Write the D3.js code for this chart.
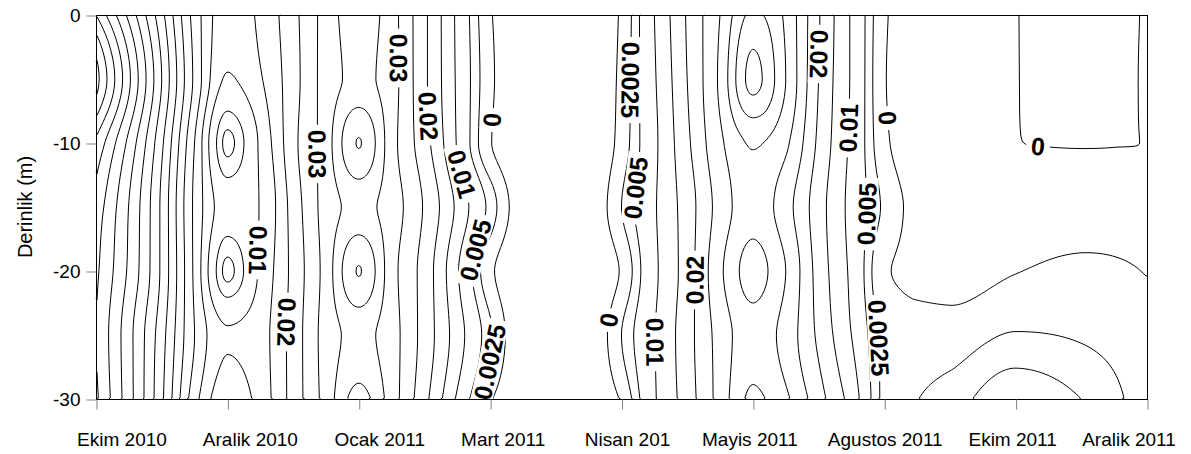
<!DOCTYPE html>
<html>
<head>
<meta charset="utf-8">
<script src="https://cdn.jsdelivr.net/npm/d3@7"></script>
<style>
body{margin:0;background:#fff}
svg{display:block}
text{font-family:"Liberation Sans",Arial,sans-serif}
</style>
</head>
<body>
<svg id="chart" width="1191" height="454"></svg>
<script>
var months=["Ekim 2010","Aralik 2010","Ocak 2011","Mart 2011","Nisan 201","Mayis 2011","Agustos 2011","Ekim 2011","Aralik 2011"];
var depthTicks=[0,-10,-20,-30];
var depths=[0,-5,-10,-15,-20,-25,-30];
//where each profile was read, in month-index units (0 = Ekim 2010 ... 8 = Aralik 2011)
var profileAt=[0,0.5,0.75,1,1.25,1.5,1.75,2,2.25,2.5,3,3.5,4,4.25,4.5,4.75,5,5.25,5.5,5.75,6,6.5,7,7.5,8];
//one profile per position, values at the depths above
var profiles=[
	[0.075,0.087,0.074,0.068,0.066,0.065,0.066],
	[0.0415,0.045,0.041,0.039,0.039,0.037,0.036],
	[0.023,0.024,0.020,0.019,0.019,0.020,0.017],
	[0.012,0.0095,0.0018,0.0075,0.0018,0.0105,0.0065],
	[0.016,0.0145,0.0108,0.0102,0.0108,0.013,0.012],
	[0.0235,0.023,0.0235,0.022,0.0215,0.022,0.022],
	[0.032,0.032,0.0325,0.032,0.032,0.032,0.032],
	[0.038,0.0363,0.0452,0.0365,0.0452,0.0365,0.042],
	[0.032,0.032,0.032,0.0325,0.032,0.032,0.0325],
	[0.021,0.021,0.022,0.0245,0.023,0.023,0.0215],
	[0.0003,0.0006,0.0002,0.004,0.0006,0.003,0.0003],
	[-0.004,-0.004,-0.004,-0.005,-0.004,-0.005,-0.004],
	[0.0004,0.0007,0.001,0.0025,0.0003,0.0025,0.0003],
	[0.010,0.0095,0.009,0.0095,0.009,0.0098,0.0095],
	[0.0205,0.020,0.019,0.0175,0.0175,0.018,0.0175],
	[0.030,0.031,0.029,0.027,0.029,0.027,0.027],
	[0.041,0.0465,0.0355,0.033,0.037,0.033,0.036],
	[0.034,0.035,0.031,0.027,0.030,0.028,0.031],
	[0.0205,0.020,0.019,0.0172,0.018,0.019,0.022],
	[0.0095,0.0095,0.009,0.0085,0.009,0.010,0.013],
	[0.0004,0.0002,0.0006,0.002,0.0003,0.002,0.0021],
	[-0.003,-0.003,-0.003,-0.002,-0.0012,0.0012,0.0035],
	[-0.0001,-0.0001,-0.00003,-0.0015,-0.0001,0.0027,0.0075],
	[0.001,0.0008,0.0001,-0.0012,0.0006,0.0022,0.005],
	[-0.0002,-0.0002,-0.00002,-0.001,-0.0001,0.001,0.001]
];
var levels=[0,0.0025,0.005,0.01,0.015,0.02,0.025,0.03,0.035,0.04,0.045,0.05,0.055,0.06,0.065,0.07,0.075,0.08,0.085,0.09];
//contour labels: level, month index, depth, reading direction (1 down, -1 up, 0 across)
var labelSpots=[
	[0.03,1.68,-10.9,1],
	[0.01,1.2,-18.3,1],
	[0.02,1.45,-24.0,1],
	[0.03,2.31,-3.4,1],
	[0.02,2.56,-7.8,1],
	[0.01,2.81,-12.3,1],
	[0,3.02,-8.2,1],
	[0.005,2.93,-18.5,-1],
	[0.0025,3.0,-27.1,-1],
	[0.0025,4.06,-5.1,1],
	[0.005,4.09,-13.5,-1],
	[0,3.9,-23.8,-1],
	[0.01,4.25,-25.5,1],
	[0.02,4.56,-20.7,-1],
	[0.02,5.53,-3.1,1],
	[0.01,5.7,-8.8,-1],
	[0,6.01,-8.0,1],
	[0.005,5.85,-15.6,-1],
	[0.0025,5.97,-25.2,1],
	[0,7.18,-10.0,0]
];
//month names sit a little off their ticks in the original (pixels)
var monthLabelShift=[25,22,20,12,5,-4,0,-4,-19];

var W=1191,H=454;
var svg=d3.select("#chart");
var x=d3.scaleLinear().domain([0,months.length-1]).range([96,1147]);
var y=d3.scaleLinear().domain([0,-30]).range([15,399]);

//monotone cubic (same slopes as d3.curveMonotoneX) so the fine grid never overshoots the read values
function monotone(xs,ys){
	var n=xs.length,s=[],m=[];
	for(var i=0;i<n-1;i++) s.push((ys[i+1]-ys[i])/(xs[i+1]-xs[i]));
	for(i=1;i<n-1;i++){
		var h0=xs[i]-xs[i-1],h1=xs[i+1]-xs[i];
		var p=(s[i-1]*h1+s[i]*h0)/(h0+h1);
		m[i]=(Math.sign(s[i-1])+Math.sign(s[i]))*Math.min(Math.abs(s[i-1]),Math.abs(s[i]),0.5*Math.abs(p))||0;
	}
	m[0]=(3*s[0]-m[1])/2;
	m[n-1]=(3*s[n-2]-m[n-2])/2;
	return function(v){
		var k=Math.max(0,Math.min(n-2,d3.bisectRight(xs,v)-1));
		var h=xs[k+1]-xs[k],t=(v-xs[k])/h,t2=t*t,t3=t2*t;
		return (2*t3-3*t2+1)*ys[k]+(t3-2*t2+t)*h*m[k]+(-2*t3+3*t2)*ys[k+1]+(t3-t2)*h*m[k+1];
	};
}

//fine grid for d3.contours, sampled at cell centres
var nx=526,ny=192;
var plotLeft=x.range()[0],plotTop=y.range()[0];
var cw=(x.range()[1]-plotLeft)/nx,ch=(y.range()[1]-plotTop)/ny;
var rowFits=depths.map(function(d,r){
	return monotone(profileAt,profiles.map(function(p){return p[r];}));
});
var depthDown=depths.map(function(d){return -d;});
var values=new Array(nx*ny);
for(var i=0;i<nx;i++){
	var u=x.invert(plotLeft+(i+0.5)*cw);
	var fy=monotone(depthDown,rowFits.map(function(f){return f(u);}));
	for(var j=0;j<ny;j++){
		values[j*nx+i]=fy(-y.invert(plotTop+(j+0.5)*ch));
	}
}
var contours=d3.contours().size([nx,ny]).thresholds(levels)(values);

function onEdge(p){return p[0]<=0||p[0]>=nx||p[1]<=0||p[1]>=ny;}
function toPx(p){return [plotLeft+p[0]*cw,plotTop+p[1]*ch];}

//rings -> open polylines, dropping the pieces that run along the frame
var isolines=contours.map(function(c){
	var lines=[];
	c.coordinates.forEach(function(poly){
		poly.forEach(function(ring){
			var pieces=[],cur=[];
			for(var k=0;k<ring.length-1;k++){
				var a=ring[k],b=ring[k+1];
				if(onEdge(a)&&onEdge(b)){
					if(cur.length>1) pieces.push(cur);
					cur=[];
					continue;
				}
				if(!cur.length) cur.push(toPx(a));
				cur.push(toPx(b));
			}
			if(cur.length>1) pieces.push(cur);
			if(pieces.length>1){
				var first=pieces[0],last=pieces[pieces.length-1];
				var f0=first[0],l1=last[last.length-1];
				if(f0[0]===l1[0]&&f0[1]===l1[1]){
					pieces[0]=last.concat(first.slice(1));
					pieces.pop();
				}
			}
			lines=lines.concat(pieces);
		});
	});
	return {value:c.value,lines:lines};
});

var defs=svg.append("defs");
var mask=defs.append("mask").attr("id","labelGaps")
	.attr("maskUnits","userSpaceOnUse")
	.attr("x",0).attr("y",0).attr("width",W).attr("height",H);
mask.append("rect").attr("width",W).attr("height",H).attr("fill","#fff");

var lineGen=d3.line();
svg.append("g")
	.attr("class","isolines")
	.attr("mask","url(#labelGaps)")
	.selectAll("path")
	.data(d3.merge(isolines.map(function(d){return d.lines;})))
	.enter().append("path")
	.attr("d",lineGen)
	.attr("fill","none")
	.attr("stroke","#000")
	.attr("stroke-width",1)
	.attr("stroke-linejoin","round");

//contour labels, put on the nearest point of their line and turned along it
var labelG=svg.append("g").attr("class","isolabels");
labelSpots.forEach(function(s){
	var iso=isolines.filter(function(d){return d.value===s[0];})[0];
	if(!iso) return;
	var tx=x(s[1]),ty=y(s[2]),best=null,bestD=Infinity;
	iso.lines.forEach(function(line){
		line.forEach(function(p,k){
			var dd=(p[0]-tx)*(p[0]-tx)+(p[1]-ty)*(p[1]-ty);
			if(dd<bestD){bestD=dd;best={line:line,k:k};}
		});
	});
	if(!best||bestD>60*60) return;
	var line=best.line,k=best.k;
	var pt=line[k];
	var a=line[Math.max(0,k-5)],b=line[Math.min(line.length-1,k+5)];
	var dx=b[0]-a[0],dy=b[1]-a[1];
	if((s[3]===1&&dy<0)||(s[3]===-1&&dy>0)||(s[3]===0&&dx<0)){dx=-dx;dy=-dy;}
	var ang=Math.atan2(dy,dx)*180/Math.PI;
	var tr="translate("+pt[0]+","+pt[1]+") rotate("+ang+")";
	var t=labelG.append("text")
		.attr("transform",tr)
		.attr("text-anchor","middle")
		.attr("dy","0.36em")
		.attr("font-size",25)
		.attr("font-weight","bold")
		.attr("fill","#000")
		.text(String(s[0]));
	var w=t.node().getComputedTextLength()+10;
	mask.append("rect")
		.attr("transform",tr)
		.attr("x",-w/2).attr("y",-11)
		.attr("width",w).attr("height",22)
		.attr("fill","#000");
});

//frame
svg.append("rect")
	.attr("x",96.5).attr("y",15.5)
	.attr("width",1051).attr("height",384)
	.attr("fill","none").attr("stroke","#000").attr("stroke-width",1);

//axes
var xAxis=svg.append("g")
	.attr("transform","translate(0.5,399.5)")
	.call(d3.axisBottom(x)
		.tickValues(d3.range(months.length))
		.tickFormat(function(i){return months[i];})
		.tickSize(10).tickSizeOuter(0));
xAxis.select(".domain").remove();
xAxis.selectAll(".tick line").attr("stroke","#808080");
xAxis.selectAll(".tick text")
	.attr("y",46).attr("dy",0)
	.attr("x",function(d){return monthLabelShift[d];})
	.attr("font-size",19)
	.attr("font-family","'Liberation Sans',Arial,sans-serif")
	.attr("fill","#000");

var yAxis=svg.append("g")
	.attr("transform","translate(96.5,0.5)")
	.call(d3.axisLeft(y)
		.tickValues(depthTicks)
		.tickFormat(function(d){return String(d);})
		.tickSize(10).tickSizeOuter(0).tickPadding(6));
yAxis.select(".domain").remove();
yAxis.selectAll(".tick line").attr("stroke","#808080");
yAxis.selectAll(".tick text")
	.attr("font-size",19)
	.attr("font-family","'Liberation Sans',Arial,sans-serif")
	.attr("fill","#000");

svg.append("text")
	.attr("transform","translate(32,"+((y.range()[0]+y.range()[1])/2)+") rotate(-90)")
	.attr("text-anchor","middle")
	.attr("font-size",20)
	.attr("fill","#000")
	.text("Derinlik (m)");
</script>
</body>
</html>
